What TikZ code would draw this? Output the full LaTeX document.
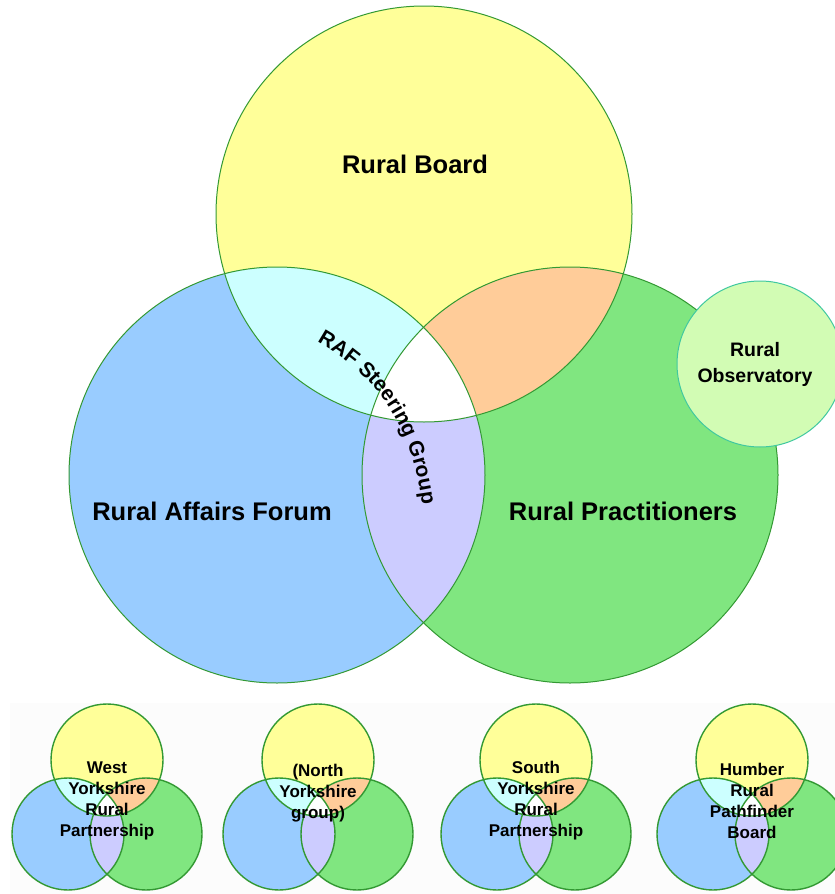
\documentclass[tikz,border=0pt]{standalone}
\usepackage{fontspec}
\setmainfont{Liberation Sans}
\usetikzlibrary{decorations.text}
\definecolor{cyel}{HTML}{FFFF99}
\definecolor{cblu}{HTML}{99CCFF}
\definecolor{cgrn}{HTML}{80E680}
\definecolor{ccya}{HTML}{CCFFFF}
\definecolor{cora}{HTML}{FFCC99}
\definecolor{clav}{HTML}{CCCCFF}
\definecolor{cobs}{HTML}{D2FCB4}
\definecolor{cobsline}{HTML}{40C8A0}
\definecolor{cline}{HTML}{339933}
\definecolor{cbg}{HTML}{FCFCFC}
\tikzset{
  bigline/.style={draw=cline, line width=1pt},
  smallline/.style={draw=cline, line width=1.4pt},
  biglabel/.style={font=\bfseries\fontsize{25.5}{28}\selectfont, inner sep=0pt, anchor=base},
  obslabel/.style={font=\bfseries\fontsize{19.5}{26}\selectfont, inner sep=0pt, align=center},
  minilabel/.style={font=\bfseries\fontsize{17}{21}\selectfont, inner sep=0pt, align=center},
}
\newcommand\minivenn[4]{%
  \begin{scope}[shift={(#1,0)}]
    \coordinate (#2y) at (0,760);
    \coordinate (#2b) at (-39,834);
    \coordinate (#2g) at (39,834);
    \fill[cyel] (#2y) circle (56);
    \fill[cblu] (#2b) circle (56);
    \fill[cgrn] (#2g) circle (56);
    \begin{scope}
      \clip (#2y) circle (56);
      \fill[ccya] (#2b) circle (56);
      \fill[cora] (#2g) circle (56);
    \end{scope}
    \begin{scope}
      \clip (#2b) circle (56);
      \fill[clav] (#2g) circle (56);
      \clip (#2y) circle (56);
      \fill[white] (#2g) circle (56);
    \end{scope}
    \draw[smallline] (#2y) circle (56);
    \draw[smallline] (#2b) circle (56);
    \draw[smallline] (#2g) circle (56);
    \node[minilabel] (#2t) at (0,#3) {#4};
  \end{scope}%
}
\begin{document}
\begin{tikzpicture}[x=1pt,y=-1pt]
\useasboundingbox (0,0) rectangle (835,894);
\clip (0,0) rectangle (835,894);
\fill[white] (0,0) rectangle (835,894);
\fill[cbg] (10,703) rectangle (835,894);
% big venn
\coordinate (Y) at (424,214);
\coordinate (B) at (277,475);
\coordinate (G) at (570,475);
\fill[cyel] (Y) circle (208);
\fill[cblu] (B) circle (208);
\fill[cgrn] (G) circle (208);
\begin{scope}
  \clip (Y) circle (208);
  \fill[ccya] (B) circle (208);
  \fill[cora] (G) circle (208);
\end{scope}
\begin{scope}
  \clip (B) circle (208);
  \fill[clav] (G) circle (208);
  \clip (Y) circle (208);
  \fill[white] (G) circle (208);
\end{scope}
\draw[bigline] (Y) circle (208);
\draw[bigline] (B) circle (208);
\draw[bigline] (G) circle (208);
% observatory
\coordinate (O) at (760,364);
\filldraw[fill=cobs, draw=cobsline, line width=1pt] (O) circle (83);
\node[obslabel] (obs) at (755,364) {Rural\\Observatory};
% labels
\node[biglabel] (board) at (415,173) {Rural Board};
\node[biglabel] (forum) at (212,520) {Rural Affairs Forum};
\node[biglabel] (pract) at (623,520) {Rural Practitioners};
\coordinate (rs) at (317,342);
\coordinate (re) at (425,535);
\path[decorate, decoration={text along path, text align=left,
  text={|\bfseries\fontsize{21}{21}\selectfont|RAF Steering Group}}]
  (rs) .. controls (374,374) and (419,425) .. (re);
% small venns
\minivenn{107}{wy}{801}{West\\Yorkshire\\Rural\\Partnership}
\minivenn{318}{ny}{793}{(North\\Yorkshire\\group)}
\minivenn{536}{sy}{801}{South\\Yorkshire\\Rural\\Partnership}
\minivenn{752}{hu}{801}{Humber\\Rural\\Pathfinder\\Board}
\end{tikzpicture}
\end{document}
